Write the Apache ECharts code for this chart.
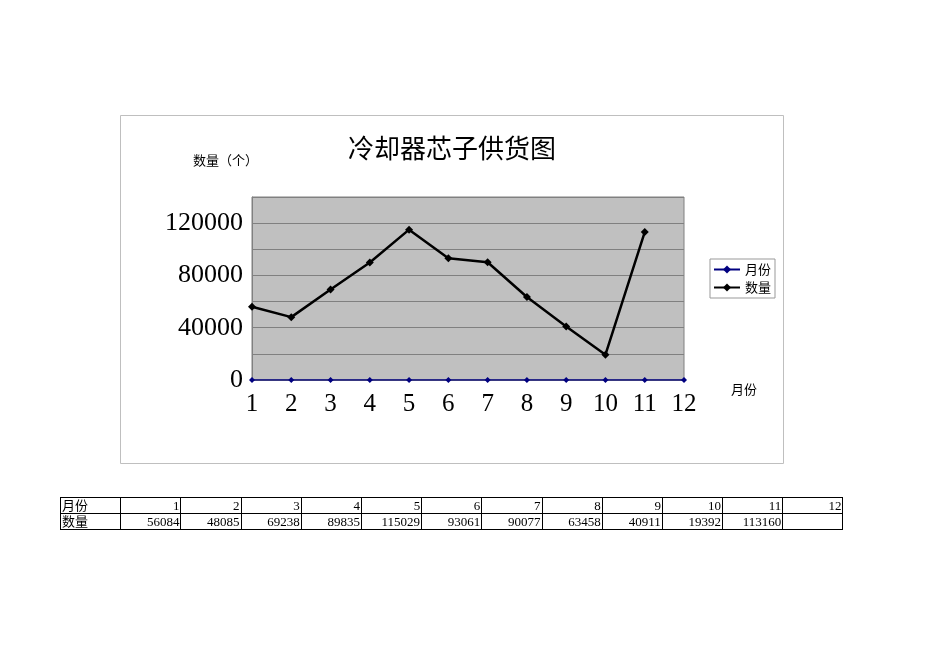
<!DOCTYPE html>
<html>
<head>
<meta charset="utf-8">
<script src="https://cdn.jsdelivr.net/npm/echarts@6/dist/echarts.min.js"></script>
<style>
html,body{margin:0;padding:0;background:#fff;}
#chart{position:absolute;left:0;top:0;width:950px;height:672px;}
#tbl{position:absolute;left:60px;top:497px;border-collapse:collapse;table-layout:fixed;font-family:"Liberation Serif","Noto Sans CJK SC",serif;font-size:13px;}
#tbl td{border:1px solid #000;height:15px;padding:0 1px;line-height:15px;text-align:right;width:58px;box-sizing:border-box;}
#tbl td.h{text-align:left;}
</style>
</head>
<body>
<div id="chart"></div>
<table id="tbl"></table>
<script>
const months = ['1','2','3','4','5','6','7','8','9','10','11','12'];
const monthValues = [1,2,3,4,5,6,7,8,9,10,11,12];
const quantity = [56084,48085,69238,89835,115029,93061,90077,63458,40911,19392,113160,null];
const titleText = '冷却器芯子供货图';
const yAxisName = '数量（个）';
const xAxisName = '月份';
const seriesNames = ['月份','数量'];

// table
const tbl = document.getElementById('tbl');
let r1 = '<tr><td class="h">' + seriesNames[0] + '</td>' + months.map(m => '<td>' + m + '</td>').join('') + '</tr>';
let r2 = '<tr><td class="h">' + seriesNames[1] + '</td>' + quantity.map(v => '<td>' + (v == null ? '' : v) + '</td>').join('') + '</tr>';
tbl.innerHTML = r1 + r2;
tbl.querySelectorAll('td').forEach(td => { td.style.width = '60.2px'; });

const chart = echarts.init(document.getElementById('chart'), null, {renderer:'canvas'});
const serif = '"Liberation Serif","Noto Sans CJK SC",serif';
chart.setOption({
  animation:false,
  backgroundColor:'#fff',
  graphic:[{type:'rect',shape:{x:120.5,y:115.5,width:663,height:348},style:{fill:'none',stroke:'#bfbfbf',lineWidth:1},z:-10}],
  title:{text:titleText,left:447,top:130,textAlign:'center',textStyle:{fontFamily:'"Noto Sans CJK SC",sans-serif',fontWeight:'normal',fontSize:26,color:'#000'}},
  legend:{
    orient:'vertical',left:710,top:259,
    data:seriesNames,
    itemWidth:26,itemHeight:10,itemGap:5,
    padding:[4,4,4,3],
    borderColor:'#999',borderWidth:1,
    textStyle:{fontFamily:'"Noto Sans CJK SC",sans-serif',fontSize:13,color:'#000'}
  },
  grid:{left:252,right:266,top:197,bottom:292,show:true,backgroundColor:'#c0c0c0',borderColor:'#808080',borderWidth:1,containLabel:false},
  xAxis:{
    type:'category',data:months,boundaryGap:false,
    name:xAxisName,nameLocation:'end',nameGap:0,
    nameTextStyle:{fontFamily:'"Noto Sans CJK SC",sans-serif',fontSize:13,color:'#000',align:'left',verticalAlign:'top',padding:[3,0,0,47]},
    axisLine:{show:true,lineStyle:{color:'#808080'}},
    axisTick:{show:false},
    axisLabel:{fontFamily:serif,fontSize:25,color:'#000',margin:12},
    splitLine:{show:false}
  },
  yAxis:{
    type:'value',min:0,max:140000,interval:20000,
    name:yAxisName,nameLocation:'end',nameGap:30,
    nameTextStyle:{fontFamily:'"Noto Sans CJK SC",sans-serif',fontSize:13,color:'#000',align:'left',padding:[0,0,0,-59]},
    axisLine:{show:true,lineStyle:{color:'#808080'}},
    axisTick:{show:false},
    axisLabel:{fontFamily:serif,fontSize:26,color:'#000',margin:9,formatter:v => (v % 40000 === 0 && v <= 120000) ? String(v) : ''},
    splitLine:{show:true,lineStyle:{color:'#808080',width:1}}
  },
  series:[
    {name:seriesNames[0],type:'line',data:monthValues,symbol:'diamond',symbolSize:6,
     lineStyle:{color:'#000080',width:1.5},itemStyle:{color:'#000080'},z:3},
    {name:seriesNames[1],type:'line',data:quantity,symbol:'diamond',symbolSize:8,
     lineStyle:{color:'#000',width:2.5},itemStyle:{color:'#000'},z:4}
  ]
});
</script>
</body>
</html>
